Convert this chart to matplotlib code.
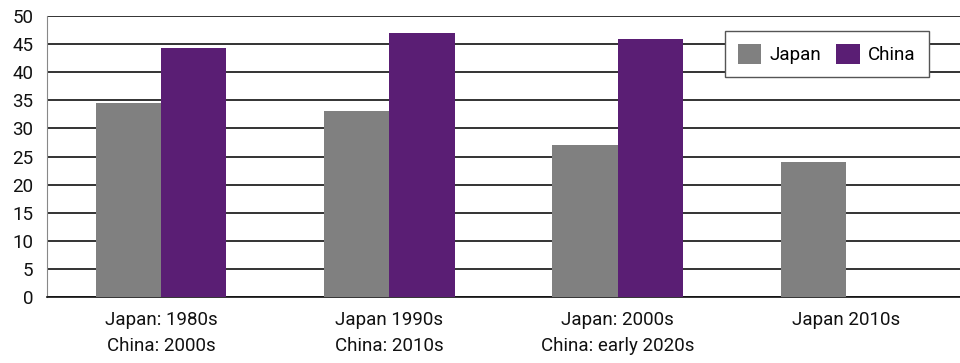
import matplotlib
matplotlib.use("Agg")
import matplotlib.pyplot as plt
import numpy as np

categories = ["Japan: 1980s\nChina: 2000s", "Japan 1990s\nChina: 2010s",
              "Japan: 2000s\nChina: early 2020s", "Japan 2010s"]
japan = [34.5, 33.1, 27.0, 24.0]
china = [44.3, 47.0, 45.9, np.nan]

plt.rcParams["font.family"] = ["Roboto", "DejaVu Sans"]

fig = plt.figure(figsize=(9.6, 3.63), dpi=100)
ax = fig.add_axes([47 / 960, 1 - 297 / 363, 913 / 960, 281 / 363])

x = np.arange(len(categories))
w = 0.286
ax.bar(x - w / 2, japan, w, color="#808080", label="Japan", zorder=3)
ax.bar(x + w / 2, china, w, color="#5a1e74", label="China", zorder=3)

ax.set_xlim(-0.5, len(categories) - 0.5)
ax.set_ylim(0, 50)
ax.set_yticks(range(0, 51, 5))
ax.set_xticks(x)
ax.set_xticklabels(categories, linespacing=1.55)
ax.tick_params(axis="both", length=0, labelsize=13.5, colors="#111111")
ax.tick_params(axis="x", pad=10)
ax.tick_params(axis="y", pad=10)
ax.yaxis.grid(True, color="#111111", linewidth=1.2, zorder=0)
ax.set_axisbelow(True)

for s in ["top", "right"]:
    ax.spines[s].set_visible(False)
ax.spines["left"].set_color("#888888")
ax.spines["bottom"].set_color("#111111")
ax.spines["bottom"].set_linewidth(1.2)

leg = ax.legend(loc="upper right", bbox_to_anchor=(882 / 913, 1 - 15 / 281), ncol=2,
                fontsize=13.5, frameon=True, fancybox=False, handlelength=1.25,
                handleheight=1.25, handletextpad=0.45, columnspacing=0.8,
                borderpad=0.7, borderaxespad=0)
leg.get_frame().set_edgecolor("#555555")
leg.get_frame().set_linewidth(1.0)
leg.get_frame().set_alpha(1)

fig.savefig("out.png", dpi=100)
